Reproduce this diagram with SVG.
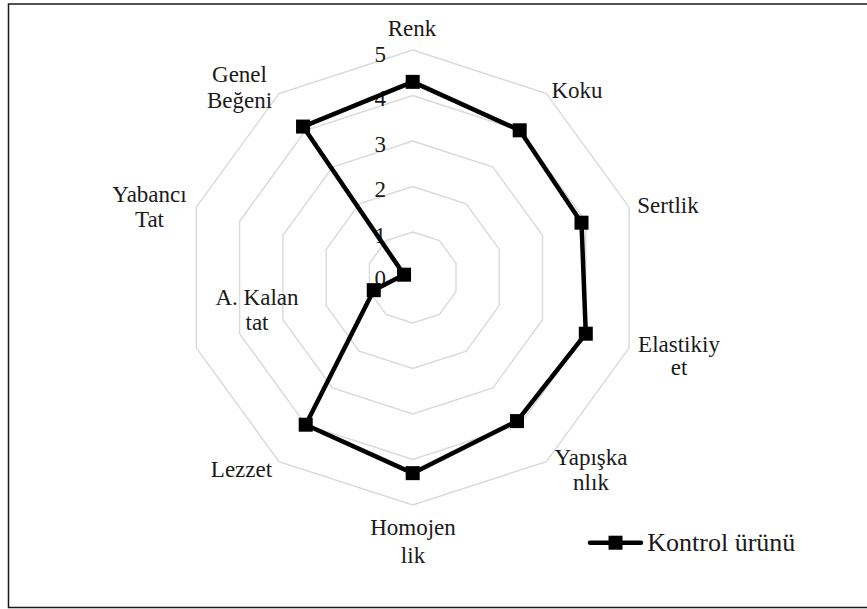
<svg xmlns="http://www.w3.org/2000/svg" width="867" height="609" viewBox="0 0 867 609">
<style>
.bg{fill:#ffffff}
.frame{fill:none;stroke:#1a1a1a;stroke-width:1.5}
.grid{fill:none;stroke:#d9d9d9;stroke-width:1.4}
.series{fill:none;stroke:#000;stroke-width:4.5;stroke-linejoin:round}
.mk{fill:#000}
text{font-size:23px;fill:#1a1a1a}
.tick{text-anchor:end}
.lab{text-anchor:middle}
.leg{font-size:26px}
</style>
<defs>
<rect id="sq" x="-7" y="-7" width="14" height="14" class="mk"/>
</defs>
<rect class="bg" x="0" y="0" width="867" height="609"/>
<rect class="frame" x="8.5" y="4" width="870" height="603.5"/>
<g id="grid">
<polygon class="grid" points="412.7,232 439.4,240.7 456,263.4 456,291.6 439.4,314.3 412.7,323 386,314.3 369.4,291.6 369.4,263.4 386,240.7"/>
<polygon class="grid" points="412.7,186.5 466.2,203.9 499.2,249.4 499.2,305.6 466.2,351.1 412.7,368.5 359.2,351.1 326.2,305.6 326.2,249.4 359.2,203.9"/>
<polygon class="grid" points="412.7,141 492.9,167.1 542.5,235.3 542.5,319.7 492.9,387.9 412.7,414 332.5,387.9 282.9,319.7 282.9,235.3 332.5,167.1"/>
<polygon class="grid" points="412.7,95.5 519.7,130.3 585.8,221.3 585.8,333.7 519.7,424.7 412.7,459.5 305.7,424.7 239.6,333.7 239.6,221.3 305.7,130.3"/>
<polygon class="grid" points="412.7,50 546.4,93.5 629.1,207.2 629.1,347.8 546.4,461.6 412.7,505 279,461.6 196.3,347.8 196.3,207.2 279,93.5"/>
</g>
<g font-family="'Liberation Serif', 'Times New Roman', 'DejaVu Serif', serif">
<g id="ticks">
<text class="tick" x="386" y="62">5</text>
<text class="tick" x="386" y="106">4</text>
<text class="tick" x="386" y="151.5">3</text>
<text class="tick" x="386" y="197">2</text>
<text class="tick" x="386" y="243">1</text>
<text class="tick" x="386" y="286">0</text>
</g>
<g id="labels">
<text class="lab" x="412" y="36">Renk</text>
<text class="lab" x="577" y="97.5">Koku</text>
<text class="lab" x="668" y="212.5">Sertlik</text>
<text class="lab" x="679" y="352">Elastikiy<tspan x="679" dy="23">et</tspan></text>
<text class="lab" x="591" y="465">Yapışka<tspan x="591" dy="25">nlık</tspan></text>
<text class="lab" x="413" y="535">Homojen<tspan x="413" dy="28">lik</tspan></text>
<text class="lab" x="241.5" y="476.7">Lezzet</text>
<text class="lab" x="257" y="305">A. Kalan<tspan x="257" dy="25">tat</tspan></text>
<text class="lab" x="149.5" y="201.7">Yabancı<tspan x="149.5" dy="25">Tat</tspan></text>
<text class="lab" x="239.5" y="81.7">Genel<tspan x="239.5" dy="26.6">Beğeni</tspan></text>
</g>
</g>
<g id="series">
<polygon class="series" points="412.7,81.85 519.7,130.3 581.5,222.7 585.8,333.7 517,421.1 412.7,473.15 305.7,424.7 373.75,290.15 404.04,274.69 303.05,126.58"/>
<use href="#sq" x="412.7" y="81.85"/>
<use href="#sq" x="519.7" y="130.3"/>
<use href="#sq" x="581.5" y="222.7"/>
<use href="#sq" x="585.8" y="333.7"/>
<use href="#sq" x="517" y="421.1"/>
<use href="#sq" x="412.7" y="473.15"/>
<use href="#sq" x="305.7" y="424.7"/>
<use href="#sq" x="373.75" y="290.15"/>
<use href="#sq" x="404.04" y="274.69"/>
<use href="#sq" x="303.05" y="126.58"/>
</g>
<g id="legend">
<line x1="590" y1="542.7" x2="641" y2="542.7" stroke="#000" stroke-width="4.5" stroke-linecap="round"/>
<use href="#sq" x="615.5" y="542.7"/>
<text class="leg" x="647.3" y="551" font-family="'Liberation Serif', 'Times New Roman', 'DejaVu Serif', serif">Kontrol ürünü</text>
</g>
</svg>
